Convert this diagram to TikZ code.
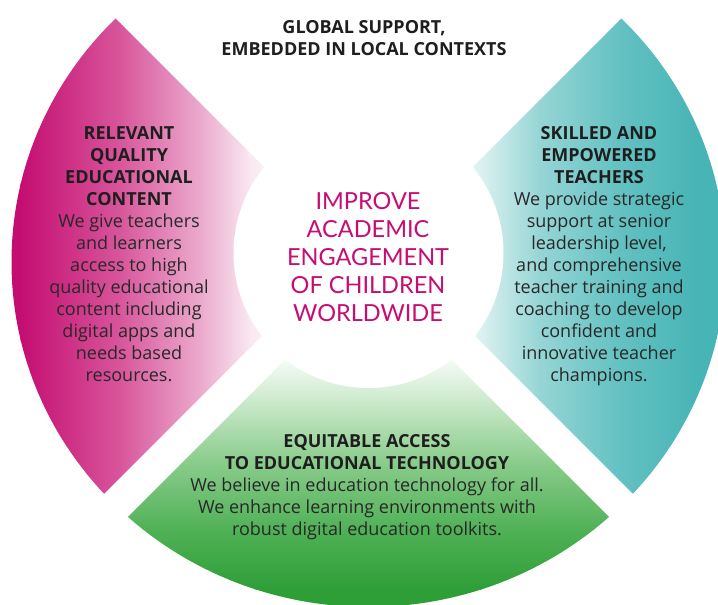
\documentclass[tikz,border=0pt]{standalone}
\usepackage{fontspec}
\setmainfont{Open Sans}
\newfontfamily\goalfont{Lato}

% sector colours (dark end first)
\definecolor{pinkA}{RGB}{196,13,113}
\definecolor{pinkB}{RGB}{216,86,155}
\definecolor{pinkC}{RGB}{235,170,205}
\definecolor{pinkD}{RGB}{249,232,241}
\definecolor{tealA}{RGB}{71,180,181}
\definecolor{tealB}{RGB}{100,193,194}
\definecolor{tealC}{RGB}{150,213,213}
\definecolor{tealD}{RGB}{215,239,239}
\definecolor{greenA}{RGB}{46,158,55}
\definecolor{greenB}{RGB}{80,177,86}
\definecolor{greenC}{RGB}{140,205,142}
\definecolor{greenD}{RGB}{205,234,205}
\definecolor{inkdark}{RGB}{30,30,30}
\definecolor{inkbody}{RGB}{40,40,40}
\definecolor{magentatext}{RGB}{197,13,114}

\begin{document}
\begin{tikzpicture}[x=1pt,y=1pt,
  blocktext/.style={font=\fontsize{18}{22}\selectfont, text=inkbody,
    align=center, inner sep=0pt, anchor=north},
  centretext/.style={font=\goalfont\fontsize{23.5}{28}\selectfont, text=magentatext,
    align=center, inner sep=0pt, anchor=north},
  outerdisc/.style={x radius=357, y radius=345},
]
\useasboundingbox (0,0) rectangle (718,605);

\coordinate (O) at (368.5,343);   % centre of the outer disc
\coordinate (H) at (368.5,352);   % centre of the white hub
\def\Rin{135}

% ---- left sector: relevant content ----
\begin{scope}
  \clip (O) ellipse [outerdisc];
  \clip (347.5,354.5) -- (-52.5,754.5) -- (-52.5,-45.5) -- cycle;
  \fill[pinkA] (-1,-5) rectangle (20.5,610);
  \shade[left color=pinkA, right color=pinkB] (20,-5) rectangle (120.5,610);
  \shade[left color=pinkB, right color=pinkC] (120,-5) rectangle (200.5,610);
  \shade[left color=pinkC, right color=pinkD] (200,-5) rectangle (250.5,610);
  \shade[left color=pinkD, right color=white] (250,-5) rectangle (290,610);
\end{scope}

% ---- right sector: skilled teachers ----
\begin{scope}
  \clip (O) ellipse [outerdisc];
  \clip (389.5,354.5) -- (789.5,754.5) -- (789.5,-45.5) -- cycle;
  \fill[tealA] (699.5,-5) rectangle (730,610);
  \shade[left color=tealB, right color=tealA] (619.5,-5) rectangle (700,610);
  \shade[left color=tealC, right color=tealB] (539.5,-5) rectangle (620,610);
  \shade[left color=tealD, right color=tealC] (484.5,-5) rectangle (540,610);
  \shade[left color=white, right color=tealD] (445,-5) rectangle (485,610);
\end{scope}

% ---- bottom sector: equitable access ----
\begin{scope}
  \clip (O) ellipse [outerdisc];
  \clip (368.5,328.5) -- (768.5,-71.5) -- (-31.5,-71.5) -- cycle;
  \fill[greenA] (0,-10) rectangle (718,15.5);
  \shade[top color=greenB, bottom color=greenA] (0,15) rectangle (718,75.5);
  \shade[top color=greenC, bottom color=greenB] (0,75) rectangle (718,145.5);
  \shade[top color=greenD, bottom color=greenC] (0,145) rectangle (718,205.5);
  \shade[top color=white, bottom color=greenD] (0,205) rectangle (718,255);
\end{scope}

% white hub
\fill[white] (H) circle (\Rin);

% ---- texts ----
\node[blocktext, text=inkdark] (global) at (364,585)
  {\textbf{GLOBAL SUPPORT,}\\\textbf{EMBEDDED IN LOCAL CONTEXTS}};

\node[centretext] (goal) at (368,413)
  {IMPROVE\\ACADEMIC\\ENGAGEMENT\\OF CHILDREN\\WORLDWIDE};

\node[blocktext] (content) at (129,479)
  {\textcolor{inkdark}{\textbf{RELEVANT}}\\
   \textcolor{inkdark}{\textbf{QUALITY}}\\
   \textcolor{inkdark}{\textbf{EDUCATIONAL}}\\
   \textcolor{inkdark}{\textbf{CONTENT}}\\
   We give teachers\\and learners\\access to high\\quality educational\\
   content including\\digital apps and\\needs based\\resources.};

\node[blocktext] (teachers) at (599,479)
  {\textcolor{inkdark}{\textbf{SKILLED AND}}\\
   \textcolor{inkdark}{\textbf{EMPOWERED}}\\
   \textcolor{inkdark}{\textbf{TEACHERS}}\\
   We provide strategic\\support at senior\\leadership level,\\
   and comprehensive\\teacher training and\\coaching to develop\\
   confident and\\innovative teacher\\champions.};

\node[blocktext] (access) at (367,171)
  {\textcolor{inkdark}{\textbf{EQUITABLE ACCESS}}\\
   \textcolor{inkdark}{\textbf{TO EDUCATIONAL TECHNOLOGY}}\\
   We believe in education technology for all.\\
   We enhance learning environments with\\
   robust digital education toolkits.};
\end{tikzpicture}
\end{document}
